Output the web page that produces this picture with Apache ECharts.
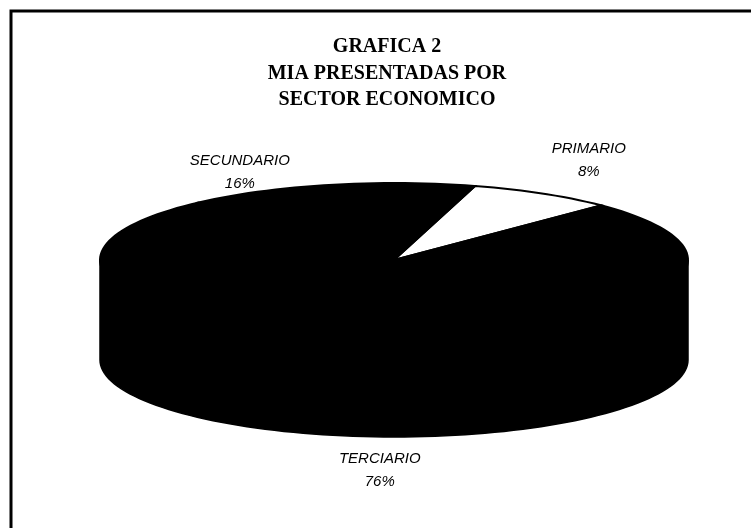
<!DOCTYPE html>
<html>
<head>
<meta charset="utf-8">
<style>
html,body{margin:0;padding:0;background:#fff;}
#main{width:751px;height:528px;}
</style>
<script src="https://cdn.jsdelivr.net/npm/echarts@6/dist/echarts.min.js"></script>
</head>
<body>
<div id="main"></div>
<script>
// datos de la grafica (orden en sentido horario)
var categories = ['PRIMARIO', 'TERCIARIO', 'SECUNDARIO'];
var values = [8, 76, 16];
var sliceColors = ['#ffffff', '#000000', '#000000'];

// geometria del pastel 3d
var CX = 394, CY = 260, RX = 294, RY = 77, DEPTH = 100;
var START = 74; // grados, sentido matematico
// desplazamiento de cada etiqueta respecto al borde de su rebanada
var labelNudge = { PRIMARIO: [46, -33], SECUNDARIO: [-89, -13], TERCIARIO: [-6, 33] };

var total = values.reduce(function (a, b) { return a + b; }, 0);
var angles = [];
var acc = START;
for (var i = 0; i < values.length; i++) {
    var span = values[i] / total * 360;
    angles.push([acc, acc - span]);
    acc -= span;
}

function pt(deg, dy) {
    var r = deg * Math.PI / 180;
    return [CX + RX * Math.cos(r), CY - RY * Math.sin(r) + (dy || 0)];
}

function arc(a0, a1, dy) {
    var pts = [], n = Math.max(4, Math.ceil(Math.abs(a0 - a1) / 2));
    for (var k = 0; k <= n; k++) pts.push(pt(a0 + (a1 - a0) * k / n, dy));
    return pts;
}

function renderItem(params, api) {
    var idx = params.dataIndex;
    var a0 = angles[idx][0], a1 = angles[idx][1];
    var children = [];
    // pared frontal: parte de la rebanada con seno negativo
    for (var k = -2; k <= 1; k++) {
        var lo = Math.max(a1, -180 + 360 * k), hi = Math.min(a0, 360 * k);
        if (hi > lo) {
            var top = arc(lo, hi, 0), bot = arc(hi, lo, DEPTH);
            children.push({
                type: 'polygon',
                shape: { points: top.concat(bot) },
                style: { fill: sliceColors[idx], stroke: '#000', lineWidth: 1.5 }
            });
        }
    }
    // cara superior
    children.push({
        type: 'polygon',
        shape: { points: [[CX, CY]].concat(arc(a0, a1, 0)) },
        style: { fill: sliceColors[idx], stroke: '#000', lineWidth: 2 },
        z2: 10
    });
    // etiqueta
    var mid = (a0 + a1) / 2;
    var s = Math.sin(mid * Math.PI / 180);
    var anchor = pt(mid, s < 0 ? DEPTH : 0);
    var nudge = labelNudge[categories[idx]];
    children.push({
        type: 'text',
        x: anchor[0] + nudge[0],
        y: anchor[1] + nudge[1],
        z2: 20,
        style: {
            text: categories[idx] + '\n' + values[idx] + '%',
            fill: '#000',
            font: 'italic 15px "Liberation Sans", Arial, sans-serif',
            lineHeight: 23,
            align: 'center',
            verticalAlign: 'middle'
        }
    });
    return { type: 'group', children: children };
}

var chart = echarts.init(document.getElementById('main'));
chart.setOption({
    backgroundColor: '#fff',
    animation: false,
    title: {
        text: 'GRAFICA 2\nMIA PRESENTADAS POR\nSECTOR ECONOMICO',
        left: 382,
        top: 29,
        textAlign: 'center',
        textStyle: {
            fontFamily: '"Liberation Serif", "Times New Roman", serif',
            fontWeight: 'bold',
            fontSize: 20,
            lineHeight: 26.5,
            color: '#000'
        }
    },
    graphic: [{
        type: 'rect',
        shape: { x: 11, y: 11, width: 800, height: 600 },
        style: { fill: 'none', stroke: '#000', lineWidth: 3 }
    }],
    series: [{
        type: 'custom',
        coordinateSystem: 'none',
        renderItem: renderItem,
        data: values.map(function (v, i) { return { name: categories[i], value: v }; })
    }]
});
</script>
</body>
</html>
